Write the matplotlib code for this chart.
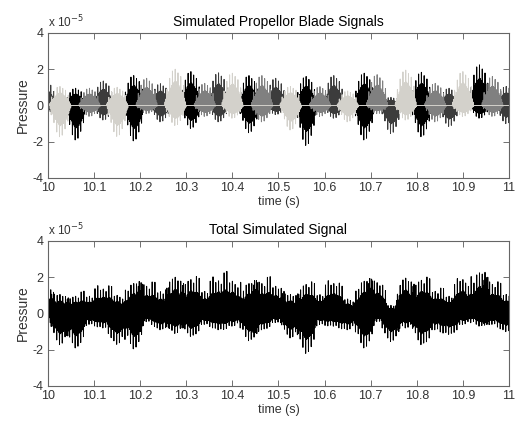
import numpy as np
import matplotlib
matplotlib.use("Agg")
import matplotlib.pyplot as plt

# ------------------------------------------
# 1. DATA (pressure in units of 1e-5)
# ------------------------------------------
# one burst per blade every 0.125 s; centre times of each blade's bursts
light_centres = [10.025, 10.15, 10.275, 10.40, 10.525, 10.65, 10.775, 10.90]
light_up = [1.05, 1.00, 2.00, 1.78, 1.05, 0.80, 1.95, 1.87]
light_dn = [1.72, 1.70, 1.10, 0.70, 1.35, 0.90, 0.80, 0.60]

black_centres = [10.06, 10.185, 10.31, 10.435, 10.56, 10.685, 10.81, 10.935]
black_up = [0.95, 1.65, 1.87, 1.65, 1.60, 1.78, 1.83, 2.24]
black_dn = [1.90, 1.95, 1.26, 1.50, 2.20, 1.90, 1.72, 0.70]

mid_centres = [10.09, 10.215, 10.34, 10.465, 10.59, 10.715, 10.84, 10.965]
mid_up = [0.95, 1.50, 1.22, 1.65, 1.04, 1.70, 1.22, 1.60]
mid_dn = [0.60, 0.45, 0.60, 0.90, 0.60, 0.45, 0.90, 0.60]

dark_centres = [9.995, 10.12, 10.245, 10.37, 10.495, 10.62, 10.745, 10.87, 10.995]
dark_up = [1.40, 1.35, 1.20, 1.80, 1.50, 1.65, 0.45, 0.95, 1.05]
dark_dn = [0.45, 0.80, 0.90, 0.90, 0.50, 0.70, 1.55, 1.15, 1.00]

# relative shape of one burst (23 steps of 0.002 s), read off a typical burst:
# a rounded body with thin spikes sticking out of it
shape_up = [0.10, 0.18, 0.45, 0.30, 0.38, 0.75, 0.48, 0.55, 0.95, 0.62, 0.65, 1.00,
            0.66, 0.62, 0.90, 0.55, 0.50, 0.80, 0.42, 0.35, 0.55, 0.20, 0.10]
shape_dn = [0.10, 0.30, 0.20, 0.28, 0.55, 0.40, 0.45, 0.85, 0.55, 0.60, 1.00, 0.65,
            0.62, 0.95, 0.58, 0.52, 0.75, 0.45, 0.38, 0.50, 0.25, 0.15, 0.08]

dt = 0.001
t = 10 + dt * np.arange(1001)


def blade_signal(centres, up, dn):
    # each shape step = one positive sample followed by one negative sample
    y = np.zeros(len(t))
    half = len(shape_up) // 2
    for c, a, b in zip(centres, up, dn):
        i0 = int(round((c - 10) / (2 * dt)))
        for m in range(len(shape_up)):
            k = 2 * (i0 - half + m)
            if 0 <= k < len(t):
                y[k] += a * shape_up[m]
            if 0 <= k + 1 < len(t):
                y[k + 1] -= b * shape_dn[m]
    return y


blades = [
    (blade_signal(black_centres, black_up, black_dn), "#000000"),
    (blade_signal(dark_centres, dark_up, dark_dn), "#3c3c3c"),
    (blade_signal(mid_centres, mid_up, mid_dn), "#808080"),
    (blade_signal(light_centres, light_up, light_dn), "#d3d1cb"),
]
total = sum(b[0] for b in blades)

# ------------------------------------------
# 2. FIGURE
# ------------------------------------------
plt.rcParams["font.family"] = ["Liberation Sans", "DejaVu Sans"]
plt.rcParams["path.simplify"] = False
fig = plt.figure(figsize=(5.17, 4.23), dpi=100)
ax1 = fig.add_axes([0.0928, 0.5792, 0.8917, 0.3428])
ax2 = fig.add_axes([0.0928, 0.0875, 0.8917, 0.3428])

for y, col in blades:
    ax1.plot(t, y, color=col, lw=0.7)
ax2.plot(t, total, color="black", lw=0.7)

xticks = np.round(np.arange(10, 11.01, 0.1), 1)
xlabels = ["10", "10.1", "10.2", "10.3", "10.4", "10.5",
           "10.6", "10.7", "10.8", "10.9", "11"]

for ax, title in [(ax1, "Simulated Propellor Blade Signals"),
                  (ax2, "Total Simulated Signal")]:
    ax.set_xlim(10, 11)
    ax.set_ylim(-4, 4)
    ax.set_xticks(xticks)
    ax.set_xticklabels(xlabels)
    ax.set_yticks([-4, -2, 0, 2, 4])
    ax.set_yticklabels(["-4", "-2", "0", "2", "4"])
    ax.tick_params(direction="in", top=True, right=True, length=4,
                   width=0.6, color="0.35", labelcolor="#333333",
                   labelsize=9, pad=3)
    for s in ax.spines.values():
        s.set_color("0.4")
        s.set_linewidth(0.8)
    ax.set_title(title, fontsize=10, color="black", pad=5)
    ax.set_xlabel("time (s)", fontsize=9, color="#333333", labelpad=1)
    ax.set_ylabel("Pressure", fontsize=10, color="#333333", labelpad=2)
    ax.text(0, 1.02, r"x 10$^{-5}$", transform=ax.transAxes,
            fontsize=8.5, color="#333333", ha="left", va="bottom")

fig.savefig("out.png", dpi=100)
